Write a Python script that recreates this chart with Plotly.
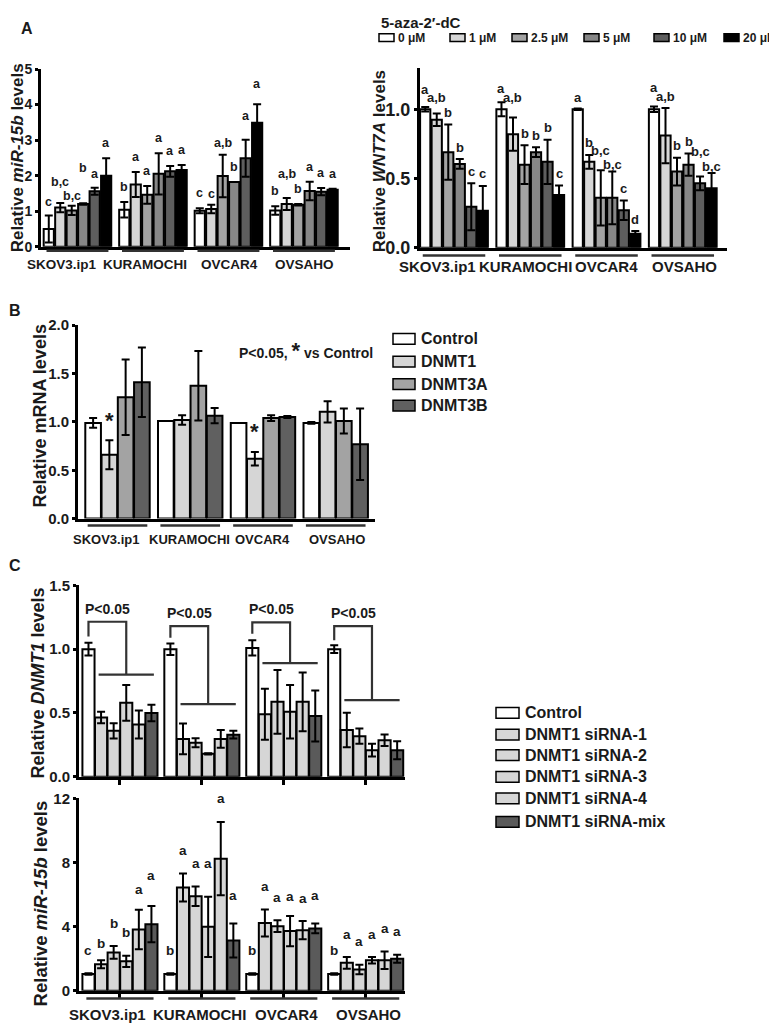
import plotly.graph_objects as go

FONT = "Liberation Sans, Arial, sans-serif"
INK = "#1a1a1a"
W, H = 777, 1034
PAGE_OFFSET = 8  # body margin of the html page

cell_lines = ["SKOV3.ip1", "KURAMOCHI", "OVCAR4", "OVSAHO"]

# ---- panel A: 5-aza-2'-dC doses
aza_doses = ["0 μM", "1 μM", "2.5 μM", "5 μM", "10 μM", "20 μM"]
aza_colors = ["#ffffff", "#d6d6d6", "#a3a3a3", "#878787", "#5e5e5e", "#000000"]

# rows = cell lines, columns = doses
mir15b_aza = [[0.50, 1.10, 1.02, 1.20, 1.56, 2.00],
              [1.04, 1.75, 1.46, 2.05, 2.12, 2.16],
              [1.01, 1.06, 1.99, 1.82, 2.49, 3.49],
              [1.02, 1.20, 1.18, 1.57, 1.55, 1.60]]
mir15b_aza_err = [[0.38, 0.13, 0.13, 0.02, 0.10, 0.49],
                  [0.22, 0.35, 0.25, 0.58, 0.15, 0.14],
                  [0.07, 0.12, 0.60, 0.00, 0.52, 0.52],
                  [0.12, 0.17, 0.02, 0.26, 0.10, 0.03]]
mir15b_aza_letters = [["c", "b,c", "b,c", "b", "a", "a"],
                      ["b", "a", "a", "a", "a", "a"],
                      ["c", "c", "a,b", "b", "a", "a"],
                      ["b", "a,b", "b", "a", "a", "a"]]

wnt7a_aza = [[1.00, 0.925, 0.69, 0.605, 0.296, 0.266],
             [1.00, 0.82, 0.60, 0.69, 0.62, 0.38],
             [1.00, 0.62, 0.36, 0.36, 0.27, 0.10],
             [1.00, 0.81, 0.55, 0.60, 0.465, 0.43]]
wnt7a_aza_err = [[0.016, 0.045, 0.20, 0.035, 0.17, 0.18],
                 [0.05, 0.12, 0.14, 0.035, 0.16, 0.07],
                 [0.005, 0.05, 0.20, 0.19, 0.07, 0.02],
                 [0.02, 0.20, 0.10, 0.08, 0.05, 0.11]]
wnt7a_aza_letters = [["a", "a,b", "b", "b", "c", "c"],
                     ["a", "a,b", "b", "b", "b", "c"],
                     ["a", "b", "b,c", "b,c", "c", "d"],
                     ["a", "a,b", "b", "b", "b,c", "b,c"]]

# ---- panel B: DNMT mRNA
dnmt_genes = ["Control", "DNMT1", "DNMT3A", "DNMT3B"]
dnmt_colors = ["#ffffff", "#d6d6d6", "#a3a3a3", "#606060"]
dnmt_mrna = [[0.99, 0.66, 1.255, 1.41],
             [1.01, 1.02, 1.374, 1.065],
             [0.99, 0.62, 1.04, 1.05],
             [0.99, 1.105, 1.01, 0.77]]
dnmt_mrna_err = [[0.05, 0.15, 0.39, 0.36],
                 [0.00, 0.05, 0.36, 0.08],
                 [0.00, 0.07, 0.03, 0.01],
                 [0.01, 0.11, 0.13, 0.37]]
dnmt_mrna_sig = [[None, "*", None, None],
                 [None, None, None, None],
                 [None, "*", None, None],
                 [None, None, None, None]]

# ---- panel C: DNMT1 siRNA
sirna = ["Control", "DNMT1 siRNA-1", "DNMT1 siRNA-2", "DNMT1 siRNA-3",
         "DNMT1 siRNA-4", "DNMT1 siRNA-mix"]
sirna_colors = ["#ffffff", "#d6d6d6", "#d6d6d6", "#d6d6d6", "#d6d6d6", "#5a5a5a"]

dnmt1_si = [[1.00, 0.464, 0.36, 0.58, 0.41, 0.50],
            [1.00, 0.297, 0.267, 0.18, 0.297, 0.33],
            [1.01, 0.49, 0.587, 0.51, 0.587, 0.477],
            [1.00, 0.367, 0.318, 0.208, 0.287, 0.208]]
dnmt1_si_err = [[0.05, 0.045, 0.06, 0.14, 0.11, 0.065],
                [0.045, 0.12, 0.035, 0.005, 0.07, 0.03],
                [0.06, 0.20, 0.25, 0.21, 0.23, 0.20],
                [0.03, 0.135, 0.06, 0.05, 0.045, 0.07]]
# P<0.05 bracket heights: top bar, control end, siRNA bar
bracket_top = [1.215, 1.18, 1.21, 1.18]
bracket_ctrl = [1.10, 1.09, 1.12, 1.07]
bracket_low = [0.80, 0.57, 0.89, 0.60]

mir15b_si = [[1.05, 1.65, 2.39, 1.84, 3.82, 4.15],
             [1.05, 6.44, 5.89, 3.99, 8.24, 3.13],
             [1.05, 4.23, 4.03, 3.72, 3.78, 3.89],
             [1.05, 1.74, 1.33, 1.90, 1.90, 2.00]]
mir15b_si_err = [[0.05, 0.25, 0.40, 0.35, 1.23, 1.13],
                 [0.05, 0.88, 0.61, 1.88, 2.29, 1.06],
                 [0.05, 0.84, 0.37, 0.94, 0.57, 0.30],
                 [0.05, 0.36, 0.30, 0.20, 0.55, 0.25]]
mir15b_si_letters = [["c", "b", "b", "b", "a", "a"],
                     ["b", "a", "a", "a", "a", "a"],
                     ["b", "a", "a", "a", "a", "a"],
                     ["b", "a", "a", "a", "a", "a"]]

# extra lift (px) for letters that sit higher / lower in the original
letter_nudge = {(1, 0, 0): -2, (1, 0, 1): 6, (1, 0, 2): -5, (1, 0, 3): 20, (1, 0, 4): -1,
                (1, 2, 1): -4, (1, 2, 2): -3, (1, 2, 4): 9, (1, 2, 5): 5, (1, 3, 1): 9,
                (2, 0, 0): 6, (2, 0, 1): 4, (2, 1, 0): 2, (2, 1, 1): 8, (2, 3, 0): 7,
                (2, 3, 1): -1, (2, 2, 0): -1,
                (2, 2, 2): 8, (2, 2, 3): -5, (2, 3, 4): 13, (2, 3, 5): -6,
                (5, 0, 1): -6, (5, 0, 4): -3, (5, 0, 5): 8, (5, 1, 3): 10, (5, 1, 5): 5,
                (5, 2, 3): -3, (5, 2, 5): 5}


def px(x):
    return (x - PAGE_OFFSET) / W


def py(y):
    return 1 - (y - PAGE_OFFSET) / H


def refs(n):
    return ("x", "y") if n == 1 else (f"x{n}", f"y{n}")


def bold(size):
    return dict(family=FONT, size=size, color=INK, weight="bold")


fig = go.Figure()


def add_bars(n, rows, errs, colors, slot, width):
    xa, ya = refs(n)
    m = len(colors)
    for k in range(m):
        off = (k - (m - 1) / 2) * slot
        fig.add_trace(go.Bar(
            x=[g + off for g in range(len(rows))],
            y=[r[k] for r in rows],
            width=width,
            marker=dict(color=colors[k], line=dict(color="black", width=2)),
            error_y=dict(type="data", array=[e[k] for e in errs],
                         color="black", thickness=2, width=4),
            xaxis=xa, yaxis=ya, showlegend=False))


def add_letters(n, rows, errs, letters, slot, yshift, size):
    xa, ya = refs(n)
    m = len(rows[0])
    for g in range(len(rows)):
        for k in range(m):
            if not letters[g][k]:
                continue
            off = (k - (m - 1) / 2) * slot
            fig.add_annotation(x=g + off, y=rows[g][k] + errs[g][k], xref=xa, yref=ya,
                               text=letters[g][k], showarrow=False, yanchor="middle",
                               yshift=yshift + letter_nudge.get((n, g, k), 0),
                               font=bold(size))


def add_groups(n, line_y, label_y, shifts, size, half=0.41):
    xa, _ = refs(n)
    for g, name in enumerate(cell_lines):
        fig.add_shape(type="line", xref=xa, yref="paper", x0=g - half, x1=g + half,
                      y0=py(line_y), y1=py(line_y), line=dict(color="#333333", width=2.5))
        fig.add_annotation(x=g, xref=xa, y=py(label_y), yref="paper", text=name,
                           xshift=shifts[g], showarrow=False, yanchor="middle",
                           font=bold(size))


def ytitle(text, x, y, size):
    fig.add_annotation(x=px(x), y=py(y), xref="paper", yref="paper", text=text,
                       textangle=-90, showarrow=False, xanchor="center",
                       yanchor="middle", font=bold(size))


def box_legend(names, colors, xs, ys, bw, bh, size, gap=4):
    for name, c, x, y in zip(names, colors, xs, ys):
        fig.add_shape(type="rect", xref="paper", yref="paper",
                      x0=px(x), x1=px(x + bw), y0=py(y + bh / 2), y1=py(y - bh / 2),
                      fillcolor=c, line=dict(color="black", width=1.5))
        fig.add_annotation(x=px(x + bw + gap), y=py(y), xref="paper", yref="paper",
                           text=name, showarrow=False, xanchor="left", yanchor="middle",
                           font=bold(size))


# ---- bars
SLOT_A, SLOT_A2, SLOT_B, SLOT_C = 0.152, 0.151, 0.2235, 0.1537
add_bars(1, mir15b_aza, mir15b_aza_err, aza_colors, SLOT_A, 0.135)
add_bars(2, wnt7a_aza, wnt7a_aza_err, aza_colors, SLOT_A2, 0.134)
add_bars(3, dnmt_mrna, dnmt_mrna_err, dnmt_colors, SLOT_B, 0.215)
add_bars(4, dnmt1_si, dnmt1_si_err, sirna_colors, SLOT_C, 0.148)
add_bars(5, mir15b_si, mir15b_si_err, sirna_colors, SLOT_C, 0.148)

add_letters(1, mir15b_aza, mir15b_aza_err, mir15b_aza_letters, SLOT_A, 15, 12.5)
add_letters(2, wnt7a_aza, wnt7a_aza_err, wnt7a_aza_letters, SLOT_A2, 12, 13)
add_letters(3, dnmt_mrna, dnmt_mrna_err, dnmt_mrna_sig, SLOT_B, 20, 22)
add_letters(5, mir15b_si, mir15b_si_err, mir15b_si_letters, SLOT_C, 23, 13.5)

# ---- P<0.05 brackets in panel C (top)
for g in range(4):
    xl = g - 2.5 * SLOT_C
    xa_ = g - 1.5 * SLOT_C - 0.03
    xb_ = g + 2.5 * SLOT_C + 0.03
    xm = (xa_ + xb_) / 2
    path = (f"M{xl},{bracket_ctrl[g]} L{xl},{bracket_top[g]} L{xm},{bracket_top[g]} "
            f"L{xm},{bracket_low[g]} M{xa_},{bracket_low[g]} L{xb_},{bracket_low[g]}")
    fig.add_shape(type="path", path=path, xref="x4", yref="y4",
                  line=dict(color="#333333", width=2.2))
    fig.add_annotation(x=(xl + xm) / 2, y=bracket_top[g], xref="x4", yref="y4",
                       text="P&lt;0.05", showarrow=False, yanchor="bottom", yshift=3,
                       font=bold(14))

# ---- group underlines + cell line names
add_groups(1, 246, 260, [-15, -8, 1, 1], 13.5)
add_groups(2, 251, 262, [-17, -5, 0, 2], 15)
add_groups(3, 526, 540, [-12, -1, 0, 1], 13)
add_groups(5, 1008, 1024, [-12, -2, 3, 3], 15)

# ---- axis titles
ytitle("Relative <i>miR-15b</i> levels", 17, 152, 17)
ytitle("Relative <i>WNT7A</i> levels", 379, 155, 17)
ytitle("Relative mRNA levels", 40, 415, 18)
ytitle("Relative <i>DNMT1</i> levels", 38, 687, 18)
ytitle("Relative <i>miR-15b</i> levels", 40, 911, 18.5)

# ---- legends
fig.add_annotation(x=px(379), y=py(14), xref="paper", yref="paper", text="5-aza-2′-dC",
                   showarrow=False, xanchor="left", yanchor="middle", font=bold(15))
box_legend(aza_doses, aza_colors, [379, 450, 512, 584, 654, 724], [29] * 6, 15, 8, 12,
           gap=2)
box_legend(dnmt_genes, dnmt_colors, [393] * 4, [336, 359, 382, 404], 22, 11, 16)
box_legend(sirna, sirna_colors, [496] * 6, [717, 739, 760, 782, 804, 828], 23, 11, 16)

fig.add_annotation(x=px(237), y=py(348), xref="paper", yref="paper",
                   text="P&lt;0.05, <span style='font-size:22px'>*</span> vs Control",
                   showarrow=False, xanchor="left", yanchor="middle", font=bold(14))

# ---- panel letters
for letter, x, y in [("A", 27, 20), ("B", 15, 307), ("C", 15, 567)]:
    fig.add_annotation(x=px(x), y=py(y), xref="paper", yref="paper", text=letter,
                       showarrow=False, xanchor="center", yanchor="middle", font=bold(16))


# ---- axes
def xaxis(dom, rng, anchor, ticks=False):
    d = dict(domain=[px(dom[0]), px(dom[1])], range=rng, anchor=anchor, showline=True,
             linecolor="black", linewidth=3, showgrid=False, zeroline=False,
             showticklabels=False, fixedrange=True)
    if ticks:
        d.update(ticks="outside", tickvals=[0, 1, 2, 3], ticklen=5, tickwidth=2.5,
                 tickcolor="black")
    else:
        d.update(ticks="")
    return d


def yaxis(top_px, bottom_px, rng, vals, fmt, anchor, size):
    return dict(domain=[py(bottom_px), py(top_px)], range=rng, anchor=anchor,
                showline=True, linecolor="black", linewidth=3, showgrid=False,
                zeroline=False, ticks="outside", ticklen=3, tickwidth=2.5,
                tickcolor="black", tickvals=vals, ticktext=[fmt.format(v) for v in vals],
                tickfont=bold(size), fixedrange=True)


fig.update_layout(
    width=W, height=H,
    margin=dict(l=0, r=0, t=0, b=0),
    paper_bgcolor="white", plot_bgcolor="white",
    barmode="overlay",
    showlegend=False,
    font=dict(family=FONT, color=INK),
    xaxis=xaxis((41, 350), [-0.483, 3.61], "y"),
    yaxis=yaxis(61, 242, [0, 5], [0, 1, 2, 3, 4, 5], "{:d}", "x", 14),
    xaxis2=xaxis((420, 727), [-0.446, 3.58], "y2"),
    yaxis2=yaxis(59.7, 243, [0, 1.3], [0, 0.5, 1.0], "{:.1f}", "x2", 18),
    xaxis3=xaxis((78, 375), [-0.543, 3.54], "y3"),
    yaxis3=yaxis(322, 519, [0, 2], [0, 0.5, 1.0, 1.5, 2.0], "{:.1f}", "x3", 15),
    xaxis4=xaxis((79, 405), [-0.5, 3.48], "y4", ticks=True),
    yaxis4=yaxis(587, 782, [0, 1.5], [0, 0.5, 1.0, 1.5], "{:.1f}", "x4", 15),
    xaxis5=xaxis((79, 405), [-0.5, 3.48], "y5", ticks=True),
    yaxis5=yaxis(804, 1000, [0, 12], [0, 4, 8, 12], "{:d}", "x5", 15),
)

fig.write_html("out.html")
